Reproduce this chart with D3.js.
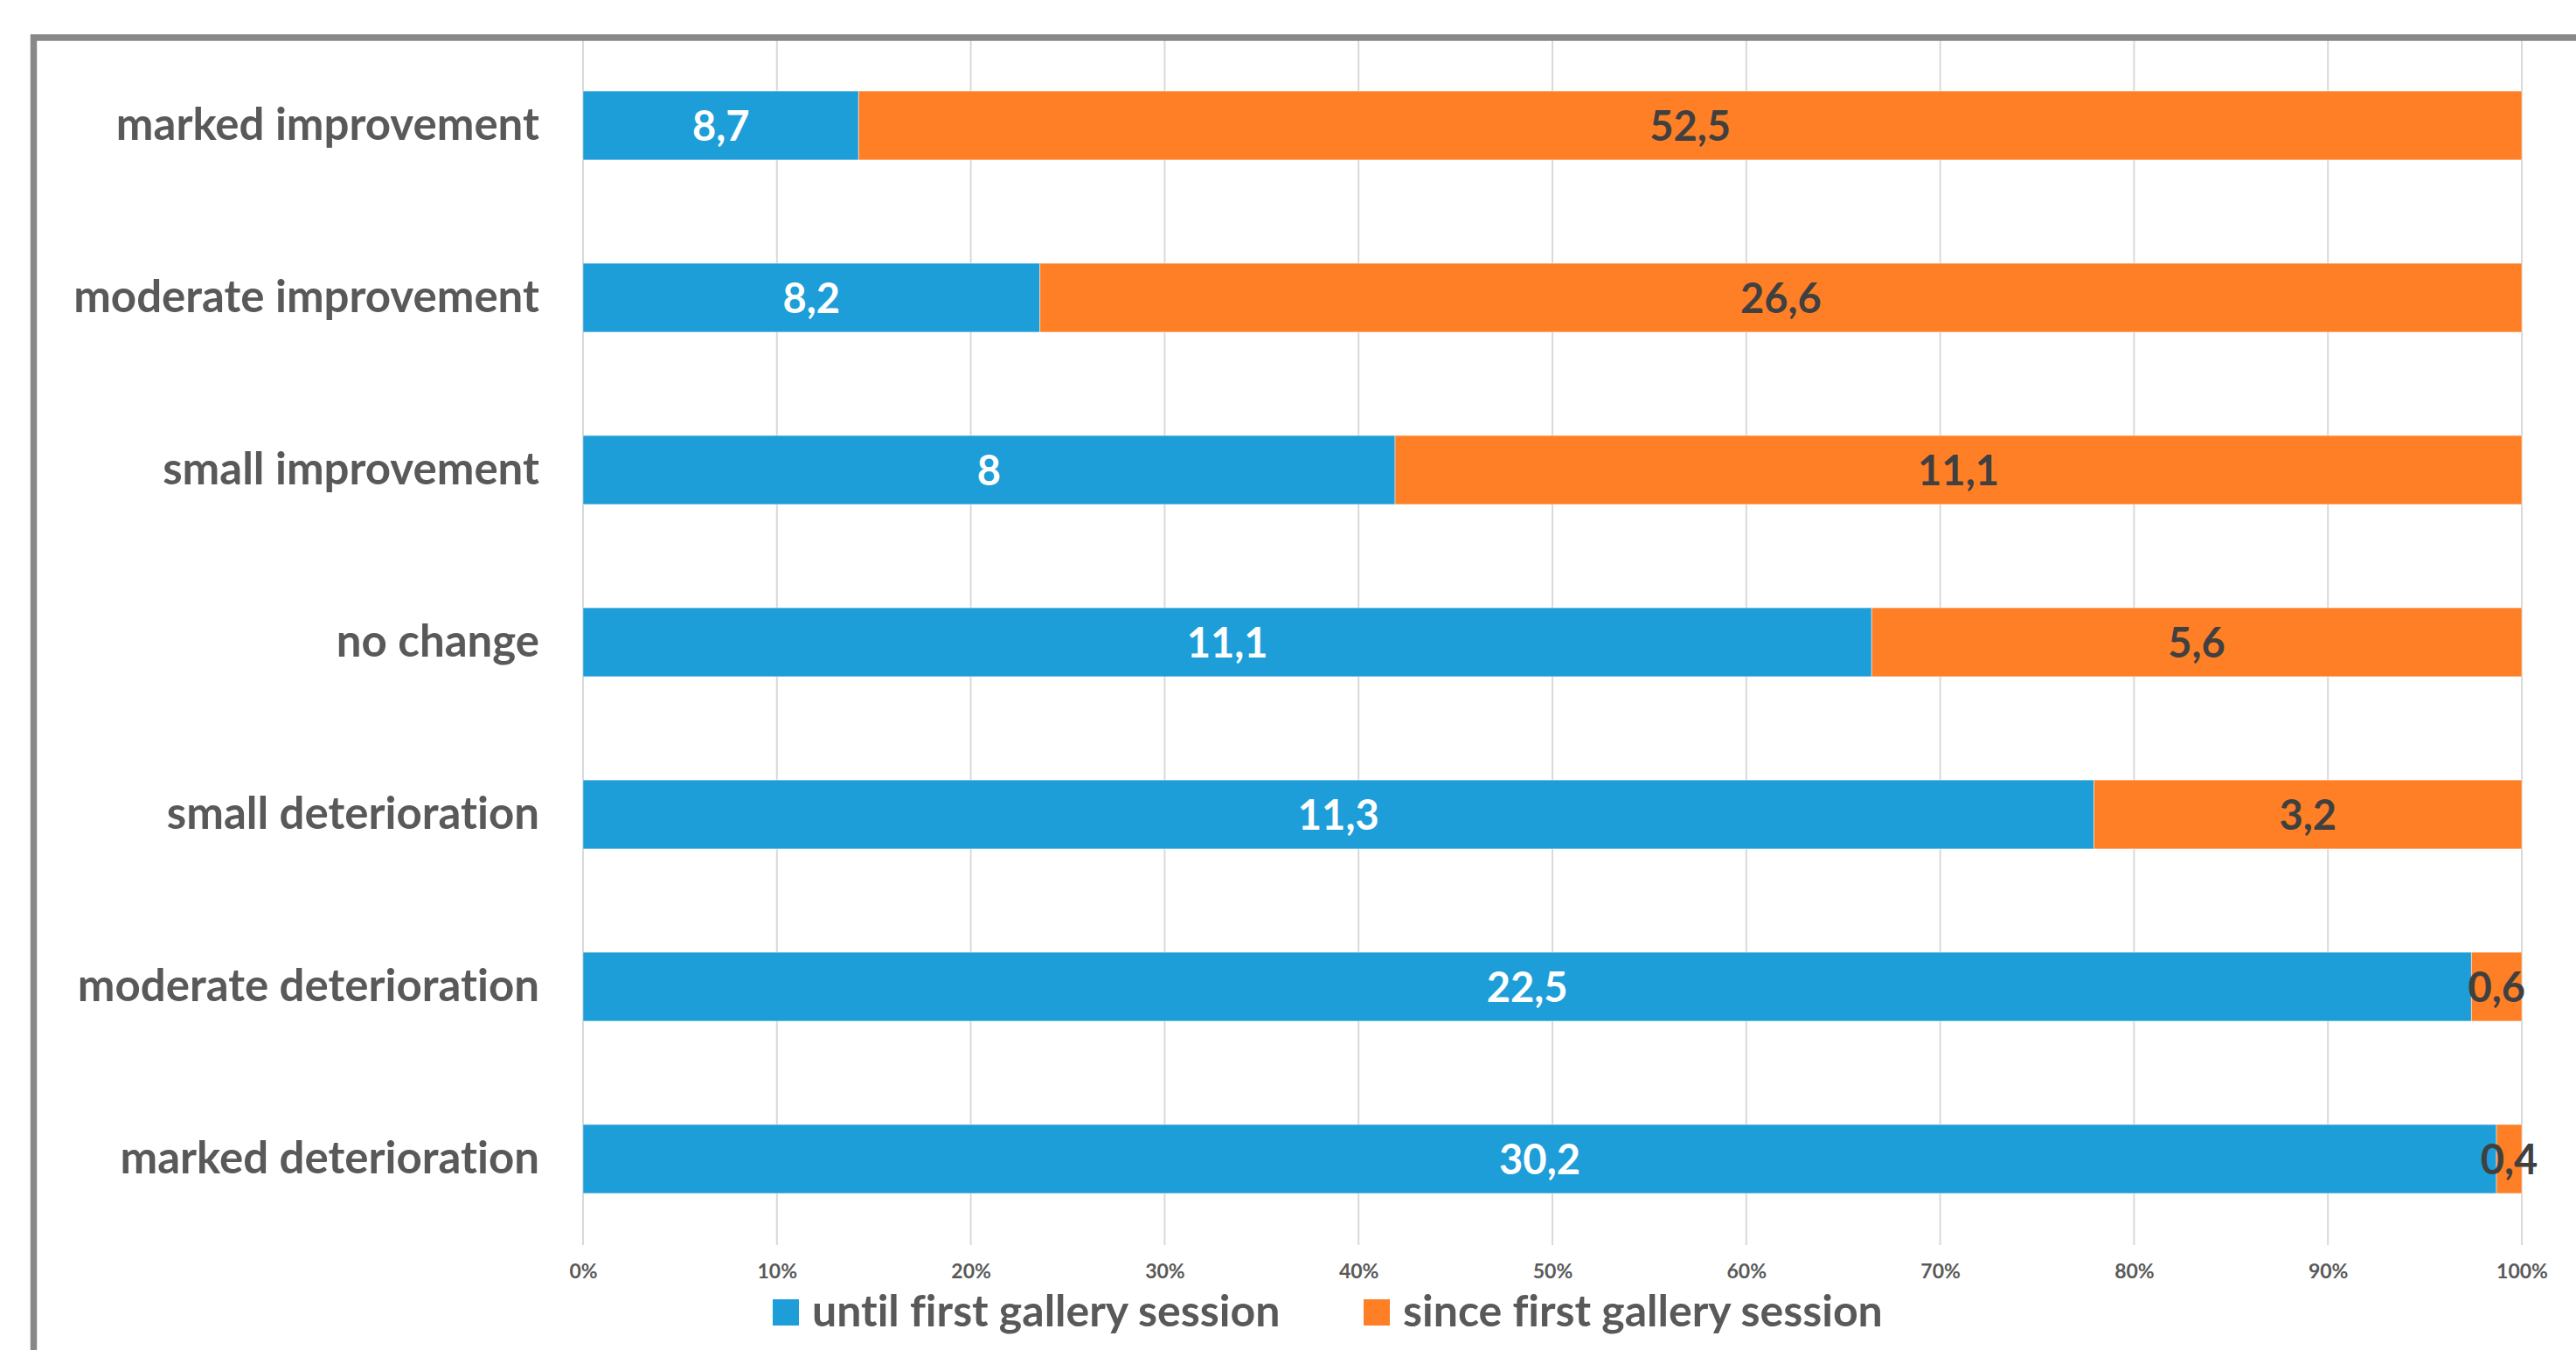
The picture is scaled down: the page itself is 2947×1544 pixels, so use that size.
<!DOCTYPE html>
<html>
<head>
<meta charset="utf-8">
<script src="https://cdn.jsdelivr.net/npm/d3@7"></script>
<style>
  html, body { margin: 0; padding: 0; background: #fff; }
  svg { display: block; }
  text { font-family: Lato, "Open Sans", sans-serif; font-weight: bold; font-variant-ligatures: none; font-feature-settings: "liga" 0, "clig" 0, "dlig" 0; }
</style>
</head>
<body>
<svg id="chart" width="2947" height="1544"></svg>
<script>
// ---- data ----
const categories = [
  "marked improvement",
  "moderate improvement",
  "small improvement",
  "no change",
  "small deterioration",
  "moderate deterioration",
  "marked deterioration"
];
const untilFirst = [8.7, 8.2, 8, 11.1, 11.3, 22.5, 30.2];
const sinceFirst = [52.5, 26.6, 11.1, 5.6, 3.2, 0.6, 0.4];
const seriesNames = ["until first gallery session", "since first gallery session"];
const tickValues = [0, 0.1, 0.2, 0.3, 0.4, 0.5, 0.6, 0.7, 0.8, 0.9, 1.0];

(function () {
// ---- layout ----
const W = 2947, H = 1544;
const plotLeft = 667, plotRight = 2885, plotTop = 45, plotBottom = 1424;
const colors = ["#1e9ed8", "#fe7f25"];

const svg = d3.select("#chart");

const x = d3.scaleLinear().domain([0, 1]).range([plotLeft, plotRight]);
const y = d3.scaleBand().domain(categories).range([plotTop, plotBottom])
  .paddingInner(0.6).paddingOuter(0.3);

// gridlines
svg.append("g").selectAll("line").data(tickValues).join("line")
  .attr("x1", d => x(d)).attr("x2", d => x(d))
  .attr("y1", plotTop).attr("y2", plotBottom)
  .attr("stroke", "#d9d9d9").attr("stroke-width", 2);

// stacked normalized data
const rows = categories.map((c, i) => {
  const tot = untilFirst[i] + sinceFirst[i];
  return { cat: c, vals: [untilFirst[i], sinceFirst[i]], tot };
});

const gBars = svg.append("g");
rows.forEach(r => {
  let acc = 0;
  r.vals.forEach((v, si) => {
    const x0 = acc / r.tot, x1 = (acc + v) / r.tot;
    acc += v;
    gBars.append("rect")
      .attr("x", x(x0)).attr("width", x(x1) - x(x0))
      .attr("y", y(r.cat)).attr("height", y.bandwidth())
      .attr("fill", colors[si])
      .attr("stroke", "rgba(255,255,255,0.45)").attr("stroke-width", 1);
  });
});

// value labels
rows.forEach(r => {
  let acc = 0;
  r.vals.forEach((v, si) => {
    const x0 = acc / r.tot, x1 = (acc + v) / r.tot;
    acc += v;
    svg.append("text")
      .attr("x", (x(x0) + x(x1)) / 2)
      .attr("y", y(r.cat) + y.bandwidth() / 2)
      .attr("dy", "0.38em")
      .attr("text-anchor", "middle")
      .attr("font-size", 47)
      .attr("fill", si === 0 ? "#ffffff" : "#404040")
      .text(String(v).replace(".", ","));
  });
});

// category axis labels
const yAxis = d3.axisLeft(y).tickSize(0).tickPadding(0);
const gy = svg.append("g").attr("transform", `translate(617,0)`).call(yAxis);
gy.select(".domain").remove();
gy.selectAll("text")
  .attr("font-size", 51).attr("fill", "#595959")
  .attr("font-family", "Lato, sans-serif").attr("font-weight", "bold")
  .attr("dy", "0.33em");

// x axis tick labels
const xAxis = d3.axisBottom(x).tickValues(tickValues).tickSize(0).tickPadding(0)
  .tickFormat(d3.format(".0%"));
const gx = svg.append("g").attr("transform", `translate(0,1462)`).call(xAxis);
gx.select(".domain").remove();
gx.selectAll("text")
  .attr("font-size", 23).attr("fill", "#595959")
  .attr("font-family", "Lato, sans-serif").attr("font-weight", "bold")
  .attr("dy", 0);

// legend
const legendX = [884, 1560];
seriesNames.forEach((n, i) => {
  svg.append("rect").attr("x", legendX[i]).attr("y", 1486)
    .attr("width", 30).attr("height", 30).attr("fill", colors[i]);
  svg.append("text").attr("x", legendX[i] + 45).attr("y", 1517)
    .attr("font-size", 50).attr("fill", "#595959").text(n);
});

// frame (top and left border)
svg.append("path")
  .attr("d", `M38.5,${H + 10} L38.5,43 L${W + 10},43`)
  .attr("fill", "none").attr("stroke", "#888888").attr("stroke-width", 7.5);
})();
</script>
</body>
</html>
